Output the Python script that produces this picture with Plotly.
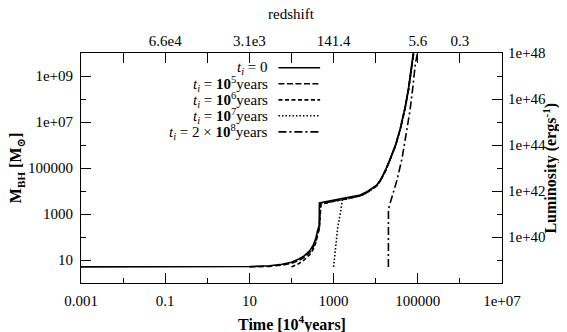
import plotly.graph_objects as go

# time in units of 1e4 years, black hole mass in solar masses
# t_i = 0
time_ti0 = [0.001, 1, 10, 30, 60, 100, 150, 200, 270, 330, 380, 420, 455, 460,
            800, 1450, 2500, 4300, 6000, 8500, 10500, 12900, 17000, 22200, 30000,
            38500, 50000, 60000, 72800, 78000]
mass_ti0 = [5, 5, 5.2, 5.6, 6.5, 8, 11, 15, 25, 45, 90, 200, 320, 3000,
            3600, 4350, 5450, 6650, 9000, 13500, 18000, 30000, 80000, 2.6e5, 1.1e6,
            5.4e6, 4.5e7, 2.8e8, 3.1e9, 1e10]

# t_i = 1e5 years
time_ti5 = [10, 30, 60, 100, 150, 200, 270, 330, 380, 420, 460, 490,
            800, 1450, 2500, 4300, 6000, 8500, 10500, 12900, 17000, 22200, 30000,
            38500, 50000, 60000, 72800, 80000]
mass_ti5 = [5, 5.3, 6, 7.2, 9.5, 13, 21, 37, 70, 150, 260, 2800,
            3350, 4050, 5050, 6200, 8400, 12600, 16800, 28000, 75000, 2.45e5, 1.0e6,
            5.0e6, 4.0e7, 2.5e8, 2.8e9, 1e10]

# t_i = 1e6 years
time_ti6 = [100, 150, 200, 270, 330, 380, 420, 460, 500,
            800, 1450, 2500, 4300, 6000, 8500, 10500, 12900, 17000, 22200, 30000,
            38500, 50000, 60000, 72800, 80000]
mass_ti6 = [5, 7, 10, 17, 30, 60, 130, 230, 2700,
            3300, 4000, 5000, 6150, 8300, 12500, 16600, 27800, 74500, 2.42e5, 1.0e6,
            4.95e6, 4.0e7, 2.5e8, 2.8e9, 1e10]

# t_i = 1e7 years
time_ti7 = [1000, 1050, 1100, 1250, 1450, 1600, 2500, 4300, 6000, 8500, 10500,
            12900, 17000, 22200, 30000, 38500, 50000, 60000, 72800, 80000]
mass_ti7 = [5, 12, 37, 250, 1100, 3900, 4950, 6100, 8200, 12400, 16500,
            27500, 74000, 2.4e5, 1.0e6, 4.9e6, 4.0e7, 2.5e8, 2.8e9, 1e10]

# t_i = 2e8 years
time_ti8 = [20000, 20100, 21000, 25000, 32100, 42200, 55000, 65000, 75000, 87000, 98000]
mass_ti8 = [5, 1500, 2200, 6000, 30000, 2.6e5, 4e6, 3e7, 2.5e8, 3.1e9, 1e10]

legend_labels = [
    "<i>t</i><sub><i>i</i></sub> = 0",
    "<i>t</i><sub><i>i</i></sub> = <b>10</b><sup>5</sup>years",
    "<i>t</i><sub><i>i</i></sub> = <b>10</b><sup>6</sup>years",
    "<i>t</i><sub><i>i</i></sub> = <b>10</b><sup>7</sup>years",
    "<i>t</i><sub><i>i</i></sub> = 2 × <b>10</b><sup>8</sup>years",
]
dashes = ["solid", "6px,2.5px", "4px,2.5px", "1.5px,2px", "8px,3px,2px,3px"]
curves = [(time_ti0, mass_ti0), (time_ti5, mass_ti5), (time_ti6, mass_ti6),
          (time_ti7, mass_ti7), (time_ti8, mass_ti8)]

# axis ticks
time_ticks = [0.001, 0.1, 10, 1000, 1e5, 1e7]
time_ticktext = ["0.001", "0.1", "10", "1000", "100000", "1e+07"]
time_minor = [0.01, 1, 100, 1e4, 1e6]

mass_ticks = [10, 1e3, 1e5, 1e7, 1e9]
mass_ticktext = ["10", "1000", "100000", "1e+07", "1e+09"]
mass_minor = [100, 1e4, 1e6, 1e8]

lum_ticks = [1e40, 1e42, 1e44, 1e46, 1e48]
lum_ticktext = ["1e+40", "1e+42", "1e+44", "1e+46", "1e+48"]
lum_minor = [1e39, 1e41, 1e43, 1e45, 1e47]

z_tickvals = [0.01, 0.1, 1, 10, 100, 1000, 1e4, 1e5, 1e6]
z_ticktext = ["", "6.6e4", "", "3.1e3", "", "141.4", "", "5.6", "0.3"]

FONT = "Liberation Serif, DejaVu Serif, serif"

fig = go.Figure()
for (t, m), dash in zip(curves, dashes):
    fig.add_trace(go.Scatter(x=t, y=m, mode="lines",
                             line=dict(color="black", width=1.6, dash=dash),
                             showlegend=False, hoverinfo="skip"))

# empty trace so the redshift / luminosity axes are drawn
fig.add_trace(go.Scatter(x=[], y=[], xaxis="x2", yaxis="y2", showlegend=False))

axis_common = dict(showgrid=False, zeroline=False, showline=True, linecolor="black",
                   linewidth=1, ticks="inside", tickcolor="black", ticklen=10,
                   tickfont=dict(family=FONT, size=15, color="black"))

# the page body has an 8px margin, so the figure is 8px smaller each way
fig.update_layout(
    width=559, height=324,
    margin=dict(l=73, r=65, t=45, b=49),
    paper_bgcolor="white", plot_bgcolor="white",
    font=dict(family=FONT, size=15, color="black"),
    xaxis=dict(type="log", range=[-3, 7], tickmode="array", tickvals=time_ticks,
               ticktext=time_ticktext, ticklabelstandoff=4,
               minor=dict(tickmode="array", tickvals=time_minor, ticks="inside",
                          ticklen=5, tickcolor="black"),
               **axis_common),
    xaxis2=dict(type="log", range=[-3, 7], overlaying="x", side="top", anchor="y",
                tickmode="array", tickvals=z_tickvals, ticktext=z_ticktext,
                **axis_common),
    yaxis=dict(type="log", range=[0, 10], tickmode="array", tickvals=mass_ticks,
               ticktext=mass_ticktext, ticklabelstandoff=4,
               minor=dict(tickmode="array", tickvals=mass_minor, ticks="inside",
                          ticklen=5, tickcolor="black"),
               **axis_common),
    yaxis2=dict(type="log", range=[38, 48], overlaying="y", side="right", anchor="x",
                tickmode="array", tickvals=lum_ticks, ticktext=lum_ticktext,
                ticklabelstandoff=2,
                minor=dict(tickmode="array", tickvals=lum_minor, ticks="inside",
                           ticklen=5, tickcolor="black"),
                **axis_common),
    showlegend=False,
)

annotations = [
    dict(text="<b>Time [10<sup>4</sup>years]</b>", x=0.5, y=-0.176,
         font=dict(size=16)),
    dict(text="<b>M<sub>BH</sub> [M<sub>⊙</sub>]</b>", x=-0.154, y=0.5,
         textangle=-90, font=dict(size=16)),
    dict(text="<b>Luminosity (ergs<sup>-1</sup>)</b>", x=1.113, y=0.5,
         textangle=-90, font=dict(size=16)),
    dict(text="redshift", x=0.5, y=1.17, font=dict(size=15)),
]
for a in annotations:
    a.update(xref="paper", yref="paper", showarrow=False,
             xanchor="center", yanchor="middle")
    fig.add_annotation(**a)

# gnuplot-style key: text right-aligned, line sample on its right
row_y = [0.936, 0.866, 0.796, 0.727, 0.657]
for label, dash, yy in zip(legend_labels, dashes, row_y):
    fig.add_annotation(text=label, x=0.45, y=yy, xref="paper", yref="paper",
                       xanchor="right", yanchor="middle", showarrow=False,
                       font=dict(size=15))
    fig.add_shape(type="line", xref="paper", yref="paper", x0=0.469, x1=0.568,
                  y0=yy, y1=yy, line=dict(color="black", width=1.6, dash=dash))

fig.write_html("out.html")
